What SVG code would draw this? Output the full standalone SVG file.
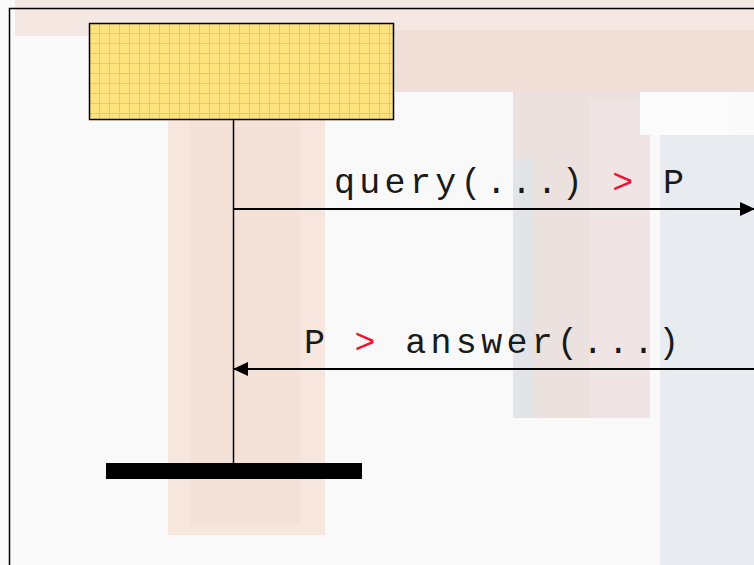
<svg xmlns="http://www.w3.org/2000/svg" width="754" height="565" viewBox="0 0 754 565">
  <style>
    .lbl { font-family: "Liberation Mono", "Courier New", monospace; font-size: 35px; letter-spacing: 4.3px; fill: #1a1a1a; }
    .red { fill: #ee1133; }
    .conn { stroke: #000; stroke-width: 2; fill: none; }
  </style>
  <defs>
    <pattern id="grid" width="10" height="10" patternUnits="userSpaceOnUse" x="89" y="23">
      <rect width="10" height="10" fill="#fde27e"/>
      <path d="M0 0.5 H10 M0.5 0 V10" stroke="#f4c300" stroke-width="1" opacity="0.7"/>
    </pattern>
    <marker id="arr" markerWidth="15" markerHeight="14" refX="14" refY="7" orient="auto" markerUnits="userSpaceOnUse">
      <path d="M0 0 L15 7 L0 14 Z" fill="#000"/>
    </marker>
  </defs>

  <!-- faded background -->
  <g id="background">
    <rect width="754" height="565" fill="#f9f9f9"/>
    <rect x="15" y="0" width="739" height="36" fill="#f5e8e2"/>
    <rect x="395" y="30" width="359" height="62" fill="#f1e0d8"/>
    <rect x="168" y="120" width="157" height="415" fill="#f6e6de"/>
    <rect x="190" y="120" width="110" height="405" fill="#f4e1d8"/>
    <rect x="513" y="92" width="137" height="326" fill="#ebe1de"/>
    <rect x="513" y="160" width="20" height="258" fill="#e2e4e8"/>
    <rect x="590" y="100" width="60" height="318" fill="#f1e4e4"/>
    <rect x="660" y="135" width="94" height="430" fill="#e8ebf0"/>
    <rect x="640" y="92" width="95" height="43" fill="#fbfbfb"/>
  </g>

  <!-- frame -->
  <path d="M9.5 565 V8.5 H754" stroke="#000" stroke-width="1.5" fill="none"/>

  <g id="object">
    <rect x="89.5" y="23.5" width="304" height="96" fill="url(#grid)" stroke="#000" stroke-width="1.5"/>
  </g>

  <g id="terminator">
    <rect x="106" y="463" width="256" height="16" fill="#000"/>
  </g>

  <g id="connectors">
    <line id="lifeline" x1="233.5" y1="120" x2="233.5" y2="463" stroke="#000" stroke-width="1.5"/>
    <line id="query" x1="234" y1="209" x2="754" y2="209" class="conn" marker-end="url(#arr)"/>
    <line id="answer" x1="754" y1="369" x2="234" y2="369" class="conn" marker-end="url(#arr)"/>
  </g>

  <g id="labels">
    <text class="lbl" x="334" y="193">query(...) <tspan class="red">&gt;</tspan> P</text>
    <text class="lbl" x="304" y="353">P <tspan class="red">&gt;</tspan> answer(...)</text>
  </g>
</svg>
